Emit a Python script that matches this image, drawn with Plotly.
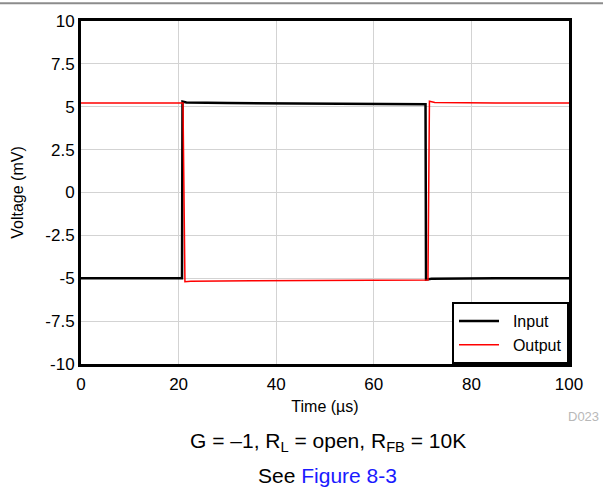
import plotly.graph_objects as go

# Data
time_input = [0, 20.7, 20.8, 21.6, 30, 45, 60, 70.6, 70.7, 71.8, 85, 100]
input_mv = [-5.0, -5.0, 5.3, 5.25, 5.22, 5.2, 5.18, 5.15, -5.08, -5.03, -5.0, -5.0]

time_output = [0, 20.9, 21.3, 22.5, 35, 50, 65, 71.1, 71.4, 72.5, 85, 100]
output_mv = [5.22, 5.22, -5.2, -5.18, -5.15, -5.12, -5.1, -5.1, 5.32, 5.25, 5.22, 5.22]

series_names = ["Input", "Output"]
x_ticks = [0, 20, 40, 60, 80, 100]
y_ticks = [-10, -7.5, -5, -2.5, 0, 2.5, 5, 7.5, 10]
y_tick_labels = ["-10", "-7.5", "-5", "-2.5", "0", "2.5", "5", "7.5", "10"]

FONT = "Liberation Sans, Arial, sans-serif"
PAD = "\u00a0\u00a0"

fig = go.Figure()
fig.add_trace(go.Scatter(x=time_input, y=input_mv, mode="lines", name=PAD + series_names[0],
                         line=dict(color="black", width=2.5)))
fig.add_trace(go.Scatter(x=time_output, y=output_mv, mode="lines", name=PAD + series_names[1],
                         line=dict(color="#ff0000", width=1.5)))

fig.update_layout(
    width=603, height=487,
    margin=dict(l=81, r=34, t=19, b=123),
    paper_bgcolor="white", plot_bgcolor="white",
    font=dict(family=FONT, size=17, color="black"),
    showlegend=True,
    legend=dict(x=1, y=0, xanchor="right", yanchor="bottom",
                bordercolor="black", borderwidth=2, bgcolor="white",
                font=dict(size=16), tracegroupgap=0,
                itemwidth=40),
    xaxis=dict(range=[0, 100], tickvals=x_ticks, showgrid=True, gridcolor="#d3d3d3",
               gridwidth=1, showline=True, linecolor="black", linewidth=3, mirror=True,
               ticks="", zeroline=False, tickfont=dict(size=17), ticklabelstandoff=3,
               title=dict(text="Time (µs)", font=dict(size=16), standoff=8)),
    yaxis=dict(range=[-10, 10], tickvals=y_ticks, ticktext=y_tick_labels, showgrid=True,
               gridcolor="#d3d3d3", gridwidth=1, showline=True, linecolor="black",
               linewidth=3, mirror=True, ticks="", zeroline=False, tickfont=dict(size=17),
               title=dict(text="Voltage (mV)", font=dict(size=16), standoff=18)),
)

fig.add_annotation(xref="paper", yref="paper", x=0.506, y=-0.226, xanchor="center",
                   yanchor="middle", showarrow=False,
                   text="G = \u20131, R<sub>L</sub> = open, R<sub>FB</sub> = 10K",
                   font=dict(size=21))
fig.add_annotation(xref="paper", yref="paper", x=0.506, y=-0.324, xanchor="center",
                   yanchor="middle", showarrow=False,
                   text="See <span style='color:#1a1aff'>Figure 8-3</span>",
                   font=dict(size=21))
fig.add_annotation(xref="paper", yref="paper", x=1.066, y=-0.152, xanchor="right",
                   yanchor="middle", showarrow=False, text="D023",
                   font=dict(size=13, color="#b8b8b8"))
fig.add_shape(type="line", xref="paper", yref="paper", x0=-0.2, x1=1.1, y0=1.052, y1=1.052,
              line=dict(color="#8c8c8c", width=2))

fig.write_html("out.html", config={"displayModeBar": False},
               post_script="document.body.style.margin='0';document.body.style.overflow='hidden';")
